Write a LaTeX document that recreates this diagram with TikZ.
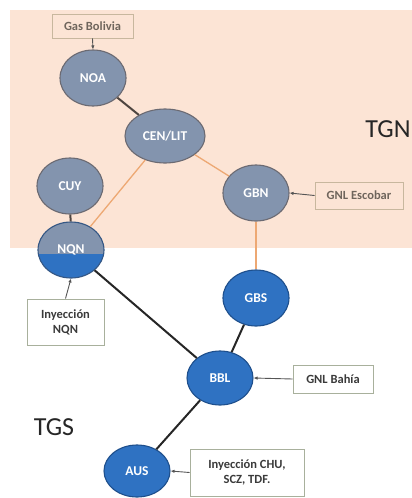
\documentclass[tikz,border=0pt]{standalone}
\usepackage{fontspec}
\setmainfont{Carlito}
\usetikzlibrary{shapes.geometric,arrows.meta}

\definecolor{peach}{HTML}{FCE4D5}
\definecolor{grayfill}{HTML}{8394AE}
\definecolor{grayedge}{HTML}{6B6A72}
\definecolor{bluefill}{HTML}{2F72C2}
\definecolor{blueedge}{HTML}{1E4F8C}
\definecolor{tgnline}{HTML}{EDA873}
\definecolor{trunkdark}{HTML}{4E4540}
\definecolor{boxedgeN}{HTML}{C8B79E}
\definecolor{boxtextN}{HTML}{6F655C}
\definecolor{boxedgeS}{HTML}{A8B09C}
\definecolor{boxtextS}{HTML}{3A3A3A}
\definecolor{feedline}{HTML}{555555}

\begin{document}
\begin{tikzpicture}[x=1pt,y=-1pt,
  zone/.style={ellipse,minimum width=66pt,minimum height=56pt,inner sep=0pt,
    line width=1.1pt,text=white,font=\bfseries\fontsize{13.5}{15}\selectfont},
  northzone/.style={zone,fill=grayfill,draw=grayedge},
  southzone/.style={zone,fill=bluefill,draw=blueedge},
  source/.style={rectangle,line width=0.9pt,align=center,inner sep=1pt,
    font=\bfseries\fontsize{12.5}{15}\selectfont},
  sourceN/.style={source,draw=boxedgeN,fill=peach,text=boxtextN},
  sourceS/.style={source,draw=boxedgeS,fill=white,text=boxtextS},
  tgnpipe/.style={draw=tgnline,line width=1.3pt},
  darkpipe/.style={draw=trunkdark,line width=2pt},
  tgspipe/.style={draw=black!85,line width=2pt},
  feed/.style={draw=feedline,line width=0.9pt,-{Latex[length=4pt,width=3.5pt]}},
  network/.style={font=\fontsize{26}{28}\selectfont,text=black!85}
]
\useasboundingbox (0,0) rectangle (412,498);
\fill[peach] (10,10) rectangle (412,248);

% northern (TGN) zones
\node[northzone] (noa) at (93,78) {NOA};
\node[northzone,minimum width=80pt,minimum height=54pt] (cen) at (165,136) {CEN/LIT};
\node[northzone] (cuy) at (70,186) {CUY};
\node[northzone] (gbn) at (256,193) {GBN};

% NQN sits on the border between both systems
\node[zone,fill=grayfill,draw=none] (nqnbg) at (71,250) {};
\begin{scope}
  \clip (30,254) rectangle (115,290);
  \node[zone,fill=bluefill,draw=none] at (71,250) {};
\end{scope}
\node[zone,draw=blueedge!70!grayedge] (nqn) at (71,250) {NQN};

% southern (TGS) zones
\node[southzone] (gbs) at (256,298) {GBS};
\node[southzone,minimum height=54pt] (bbl) at (220,378) {BBL};
\node[southzone,minimum height=52pt] (aus) at (137,471) {AUS};

% supply points
\node[sourceN,minimum width=81pt,minimum height=24pt] (gas) at (92.5,26) {Gas Bolivia};
\node[sourceN,minimum width=88pt,minimum height=27pt] (esc) at (359,195.5) {GNL Escobar};
\node[sourceS,minimum width=80pt,minimum height=28pt] (bah) at (333,379) {GNL Bahía};
\node[sourceS,minimum width=77pt,minimum height=46pt] (inyn) at (65.5,322) {Inyección\\NQN};
\node[sourceS,minimum width=114pt,minimum height=47pt] (inyc) at (247,472.5) {Inyección CHU,\\SCZ, TDF.};

% system labels
\node[network] (tgn) at (388,129) {TGN};
\node[network] (tgs) at (54,427) {TGS};

% pipelines
\draw[darkpipe] (noa) -- (cen);
\draw[darkpipe] (cuy) -- (nqn);
\draw[tgnpipe] (cen) -- (nqn);
\draw[tgnpipe] (cen) -- (gbn);
\draw[tgnpipe] (gbn) -- (gbs);
\draw[tgspipe] (nqn) -- (bbl);
\draw[tgspipe] (gbs) -- (bbl);
\draw[tgspipe] (bbl) -- (aus);

% injections
\draw[feed] (gas.south) -- (noa.north);
\draw[feed] (esc.west) -- (gbn.east);
\draw[feed] (bah.west) -- (bbl.east);
\draw[feed] (inyn.north) -- (nqn.south);
\draw[feed] (inyc.west) -- (aus.east);
\end{tikzpicture}
\end{document}
